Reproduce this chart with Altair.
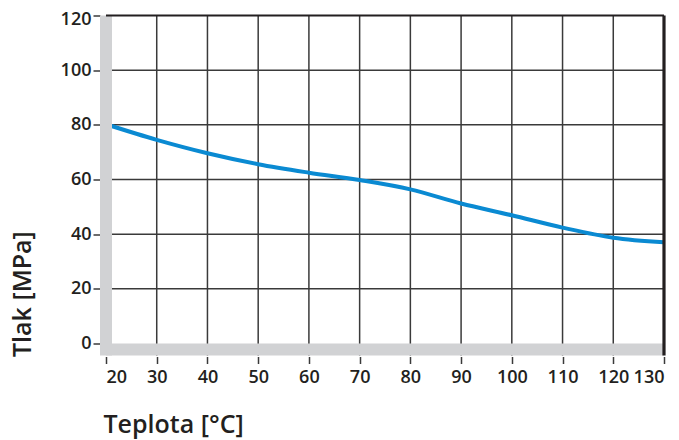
import altair as alt
import pandas as pd

# Data
temps = [20, 30, 40, 50, 60, 70, 80, 90, 100, 110, 120, 130]
pressure = [80.2, 74.5, 69.6, 65.6, 62.5, 59.8, 56.4, 51.2, 46.9, 42.4, 38.7, 37.0]
x_ticks = [20, 30, 40, 50, 60, 70, 80, 90, 100, 110, 120, 130]
y_ticks = [0, 20, 40, 60, 80, 100, 120]
grid_x = [30, 40, 50, 60, 70, 80, 90, 100, 110, 120]
grid_y = [20, 40, 60, 80, 100]

X_MIN, X_MAX = 20, 130
Y_MIN, Y_MAX = -4.4, 120
BAND_Y = -2.2

FONT = "Open Sans"
WEIGHT = 600
TEXT = "#231f20"
GRID = "#3a3a3a"
BAND = "#d1d2d4"
BLUE = "#0a8ad2"

xs = alt.Scale(domain=[X_MIN, X_MAX], nice=False, zero=False)
ys = alt.Scale(domain=[Y_MIN, Y_MAX], nice=False, zero=False)

df = pd.DataFrame({"t": temps, "p": pressure})
gx = pd.DataFrame({"x": grid_x, "y0": [Y_MIN] * len(grid_x), "y1": [Y_MAX] * len(grid_x)})
gy = pd.DataFrame({"y": grid_y, "x0": [X_MIN] * len(grid_y), "x1": [X_MAX] * len(grid_y)})

vgrid = alt.Chart(gx).mark_rule(color=GRID, strokeWidth=1.5).encode(
    x=alt.X("x:Q", scale=xs, axis=None),
    y=alt.Y("y0:Q", scale=ys, axis=None),
    y2="y1:Q",
)
hgrid = alt.Chart(gy).mark_rule(color=GRID, strokeWidth=1.5).encode(
    y=alt.Y("y:Q", scale=ys, axis=None),
    x=alt.X("x0:Q", scale=xs, axis=None),
    x2="x1:Q",
)

line = alt.Chart(df).mark_line(color=BLUE, strokeWidth=4, interpolate="monotone").encode(
    x=alt.X(
        "t:Q",
        scale=xs,
        axis=alt.Axis(
            values=x_ticks,
            domain=False,
            grid=False,
            ticks=True,
            tickSize=7,
            tickWidth=1.5,
            tickColor=GRID,
            offset=1,
            labelFont=FONT,
            labelFontSize=18,
            labelFontWeight=WEIGHT,
            labelColor=TEXT,
            labelPadding=5,
            title="Teplota [°C]",
            titleFont=FONT,
            titleFontSize=25,
            titleFontWeight=WEIGHT,
            titleColor=TEXT,
            titleAnchor="start",
            titleAlign="left",
            titleBaseline="alphabetic",
            titleX=-3,
            titleY=76,
        ),
    ),
    y=alt.Y(
        "p:Q",
        scale=ys,
        axis=alt.Axis(
            values=y_ticks,
            domain=False,
            grid=False,
            ticks=True,
            tickSize=7,
            tickWidth=1.5,
            tickColor=GRID,
            offset=6,
            labelFont=FONT,
            labelFontSize=18,
            labelFontWeight=WEIGHT,
            labelColor=TEXT,
            labelPadding=2,
            labelFlush=True,
            labelFlushOffset=5,
            title="Tlak [MPa]",
            titleFont=FONT,
            titleFontSize=25,
            titleFontWeight=WEIGHT,
            titleColor=TEXT,
            titleAngle=270,
            titleAlign="left",
            titleBaseline="alphabetic",
            titleX=-70,
            titleY=341,
        ),
    ),
)

bands_df = pd.DataFrame({"xb": [X_MIN], "yb": [BAND_Y], "x0": [X_MIN], "x1": [X_MAX], "y0": [Y_MIN], "y1": [Y_MAX]})
left_band = alt.Chart(bands_df).mark_rule(color=BAND, strokeWidth=12).encode(
    x=alt.X("xb:Q", scale=xs, axis=None),
    y=alt.Y("y0:Q", scale=ys, axis=None),
    y2="y1:Q",
)
bottom_band = alt.Chart(bands_df).mark_rule(color=BAND, strokeWidth=12).encode(
    y=alt.Y("yb:Q", scale=ys, axis=None),
    x=alt.X("x0:Q", scale=xs, axis=None),
    x2="x1:Q",
)

border_df = pd.DataFrame({"xr": [X_MAX], "yt": [Y_MAX], "x0": [X_MIN], "x1": [X_MAX], "y0": [Y_MIN], "y1": [Y_MAX]})
top_border = alt.Chart(border_df).mark_rule(color=TEXT, strokeWidth=2.2).encode(
    y=alt.Y("yt:Q", scale=ys, axis=None),
    x=alt.X("x0:Q", scale=xs, axis=None),
    x2="x1:Q",
)
right_border = alt.Chart(border_df).mark_rule(color=TEXT, strokeWidth=3.2).encode(
    x=alt.X("xr:Q", scale=xs, axis=None),
    y=alt.Y("y0:Q", scale=ys, axis=None),
    y2="y1:Q",
)

chart = (
    alt.layer(vgrid, hgrid, line, left_band, bottom_band, top_border, right_border)
    .resolve_scale(x="shared", y="shared")
    .resolve_axis(x="independent", y="independent")
    .properties(
        width=558,
        height=340,
        autosize=alt.AutoSizeParams(type="none"),
        padding={"left": 98, "top": 7.5, "right": 7, "bottom": 86},
        background="white",
    )
    .configure_view(stroke=None)
)

chart.save("out.html", embed_options={"renderer": "svg", "actions": False})
